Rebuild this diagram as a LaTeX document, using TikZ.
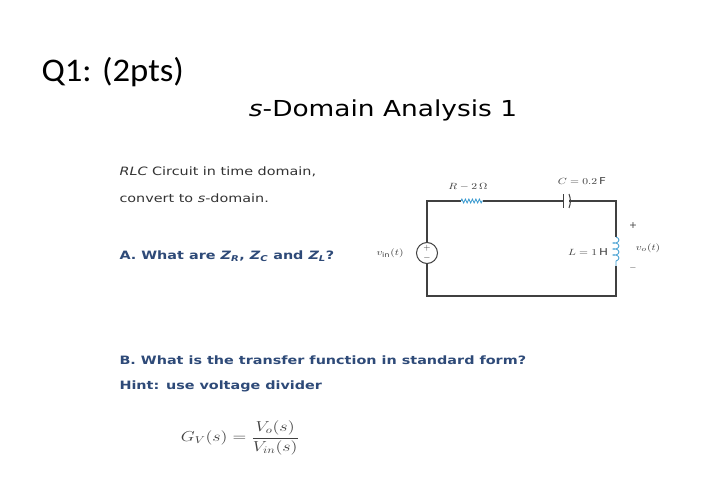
\documentclass[tikz,border=0pt]{standalone}
\usepackage{amsmath}
\usepackage{fontspec}
\setmainfont{DejaVu Sans}
\newfontfamily\titlefont{Carlito}
\usetikzlibrary{decorations.pathmorphing}
\definecolor{qblue}{HTML}{2E4A78}
\definecolor{wblue}{HTML}{3A9AD0}
\newcommand{\widen}[1]{\scalebox{1.25}[1]{#1}}
\begin{document}
\begin{tikzpicture}[x=1pt,y=-1pt,
  body/.style={anchor=west,font=\fontsize{11.5}{13}\selectfont,text=black!80},
  ques/.style={anchor=west,font=\bfseries\fontsize{11.5}{13}\selectfont,text=qblue},
  wire/.style={line width=1.1pt,black!75},
  clab/.style={font=\fontsize{9.5}{10}\selectfont,text=black!75}]
\fill[white] (0,0) rectangle (720,503);
\node[anchor=west,font=\titlefont\fontsize{33}{36}\selectfont] (q1) at (38,72) {\scalebox{1.05}[1]{Q1: (2pts)}};
\node[font=\fontsize{22}{25}\selectfont] (title) at (383,110) {\scalebox{1.2}[1]{\textit{s}-Domain Analysis 1}};
\node[body] (t1) at (116,172) {\widen{\textit{RLC} Circuit in time domain,}};
\node[body] (t2) at (116,198) {\widen{convert to \textit{s}-domain.}};
\node[ques] (qa) at (116,256) {\widen{A. What are \textit{Z\textsubscript{R}}, \textit{Z\textsubscript{C}} and \textit{Z\textsubscript{L}}?}};
\node[ques] (qb) at (116,360) {\widen{B. What is the transfer function in standard form?}};
\node[ques] (hint) at (116,386) {\widen{Hint: use voltage divider}};
\node[font=\fontsize{14}{16}\selectfont,text=black!75] (gv) at (240,438)
  {\widen{$G_V(s)=\dfrac{V_o(s)}{V_{in}(s)}$}};
% circuit
\coordinate (tl) at (427,201); \coordinate (tr) at (616,201);
\coordinate (bl) at (427,296); \coordinate (br) at (616,296);
\node[circle,draw=black!75,line width=1pt,minimum size=21pt,inner sep=0pt] (src) at (427,253) {};
\node[font=\fontsize{9}{9}\selectfont,text=black!80,inner sep=0pt] (sp) at (427,248.5) {$+$};
\node[font=\fontsize{9}{9}\selectfont,text=black!80,inner sep=0pt] (sm) at (427,258) {$-$};
\coordinate (r1) at (461,201); \coordinate (r2) at (483,201);
\coordinate (c1) at (563,201); \coordinate (c2) at (569,201);
\coordinate (l1) at (616,237); \coordinate (l2) at (616,266);
\draw[wire] (src.north) -- (tl) -- (r1);
\draw[wire] (r2) -- (c1);
\draw[wire] (c2) -- (tr) -- (l1);
\draw[wire] (l2) -- (br) -- (bl) -- (src.south);
\draw[wblue,line width=0.8pt,decorate,decoration={zigzag,segment length=3.5pt,amplitude=2pt}] (r1) -- (r2);
\draw[black!75,line width=1pt] (563,194) -- (563,208);
\draw[black!75,line width=1pt] (569,194) to[bend left=20] (569,208);
\draw[wblue,line width=0.8pt,decorate,decoration={coil,aspect=0.5,segment length=6pt,amplitude=3pt}] (l1) -- (l2);
\node[clab] (rl) at (468,187) {\widen{$R-2\,\Omega$}};
\node[clab] (cl) at (582,181) {\widen{$C=0.2$\,F}};
\node[clab] (vin) at (390,253) {\widen{$v_{\mathrm{in}}(t)$}};
\node[clab] (ll) at (588,252) {\widen{$L=1$\,H}};
\node[clab] (vp) at (633,226) {+};
\node[clab] (vo) at (648,248) {\widen{$v_o(t)$}};
\node[clab] (vm) at (633,268) {$-$};
\end{tikzpicture}
\end{document}
